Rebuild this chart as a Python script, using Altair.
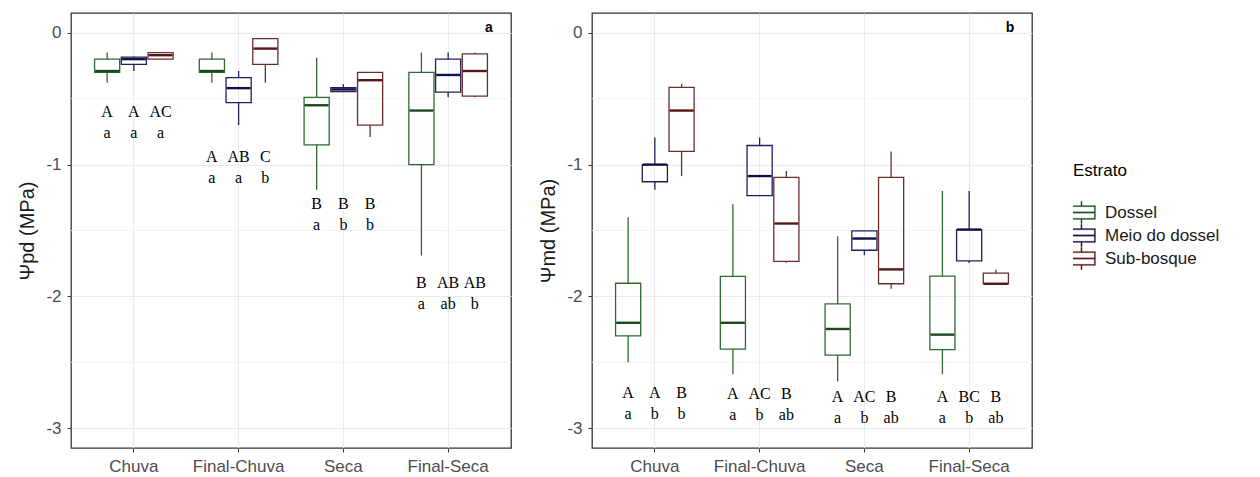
import altair as alt
import pandas as pd

cats = ["Chuva", "Final-Chuva", "Seca", "Final-Seca"]
strata = ["Dossel", "Meio do dossel", "Sub-bosque"]

# Panel a: Psi pd (MPa) box statistics (category-major, stratum-minor)
pd_min = [-0.38, -0.29, -0.20, -0.38, -0.70, -0.38, -1.19, -0.45, -0.79, -1.69, -0.49, -0.49]
pd_q1 = [-0.30, -0.24, -0.20, -0.30, -0.53, -0.24, -0.85, -0.447, -0.70, -1.00, -0.45, -0.48]
pd_med = [-0.29, -0.20, -0.17, -0.29, -0.42, -0.12, -0.55, -0.43, -0.36, -0.59, -0.32, -0.29]
pd_q3 = [-0.20, -0.185, -0.15, -0.20, -0.34, -0.045, -0.49, -0.417, -0.30, -0.30, -0.20, -0.16]
pd_max = [-0.15, -0.18, -0.145, -0.15, -0.29, -0.045, -0.19, -0.39, -0.30, -0.15, -0.15, -0.15]
pd_upper = ["A", "A", "AC", "A", "AB", "C", "B", "B", "B", "B", "AB", "AB"]
pd_lower = ["a", "a", "a", "a", "a", "b", "a", "b", "b", "a", "ab", "b"]
pd_label_y = [-0.60, -0.945, -1.30, -1.90]

# Panel b: Psi md (MPa)
md_min = [-2.50, -1.19, -1.087, -2.59, -1.236, -1.744, -2.645, -1.688, -1.942, -2.59, -1.746, -1.904]
md_q1 = [-2.30, -1.13, -0.90, -2.40, -1.236, -1.734, -2.445, -1.65, -1.904, -2.404, -1.731, -1.904]
md_med = [-2.20, -1.00, -0.59, -2.20, -1.087, -1.447, -2.247, -1.561, -1.795, -2.29, -1.493, -1.904]
md_q3 = [-1.90, -1.00, -0.414, -1.848, -0.855, -1.097, -2.056, -1.503, -1.097, -1.846, -1.493, -1.823]
md_max = [-1.40, -0.795, -0.388, -1.30, -0.795, -1.049, -1.544, -1.503, -0.90, -1.20, -1.20, -1.797]
md_upper = ["A", "A", "B", "A", "AC", "B", "A", "AC", "B", "A", "BC", "B"]
md_lower = ["a", "b", "b", "a", "b", "ab", "a", "b", "ab", "a", "b", "ab"]
md_label_y = [-2.73, -2.74, -2.76, -2.76]

y_ticks = [0, -1, -2, -3]
y_minor = [-0.5, -1.5, -2.5]

stroke_colors = ["#2E6930", "#1F1F5C", "#6B2C2C"]
median_colors = ["#1C4A1E", "#10104A", "#5A1616"]


def make_df(mn, q1, med, q3, mx, up, lo, ly):
    rows = []
    i = 0
    for ci, c in enumerate(cats):
        for s in strata:
            rows.append(dict(cat=c, estrato=s, estrato_med=s, lo=mn[i], q1=q1[i],
                             med=med[i], q3=q3[i], hi=mx[i], up=up[i], low=lo[i], ly=ly[ci]))
            i += 1
    return pd.DataFrame(rows)


W, H = 440, 435
ydom = [-3.15, 0.15]

# boxplot key drawn as thin filled frame (hole inside), median bar and whiskers
legend_path = ("M-1.87,-0.93H1.87V0.93H-1.87Z "
               "M-1.70,-0.76V0.76H1.70V-0.76Z "
               "M-1.70,-0.085H1.70V0.085H-1.70Z "
               "M-0.085,-0.93V-1.5H0.085V-0.93Z "
               "M-0.085,0.93V1.5H0.085V0.93Z")


def panel(df, ytitle, tag):
    x = alt.X("cat:N", sort=cats,
              scale=alt.Scale(paddingInner=0.25, paddingOuter=0.225),
              axis=alt.Axis(title=None, labelFont="Liberation Sans", labelFontSize=17,
                            labelColor="#4D4D4D", tickColor="#333333", tickSize=4,
                            labelPadding=6, domain=False, grid=True, gridColor="#EBEBEB",
                            gridWidth=1.1, bandPosition=0.5, labelAngle=0))
    xo = alt.XOffset("estrato:N", sort=strata, scale=alt.Scale(domain=strata, paddingInner=0.06))
    yscale = alt.Scale(domain=ydom, nice=False, zero=False)
    yaxis = alt.Axis(title=ytitle, values=y_ticks, labelExpr="'' + datum.value",
                     labelFont="Liberation Sans", labelFontSize=17, labelColor="#4D4D4D",
                     titleFont="Liberation Sans", titleFontSize=20, titleFontWeight="normal",
                     titleColor="#1A1A1A", titlePadding=8,
                     tickColor="#333333", tickSize=4, labelPadding=6, domain=False,
                     grid=True, gridColor="#EBEBEB", gridWidth=1.1)
    color = alt.Color("estrato:N", scale=alt.Scale(domain=strata, range=stroke_colors),
                      legend=alt.Legend(title="Estrato", orient="none", legendX=1002, legendY=150,
                                        symbolType=legend_path, symbolSize=225,
                                        symbolStrokeWidth=0.2, symbolOpacity=1,
                                        clipHeight=23,
                                        titleFont="Liberation Sans", titleFontSize=17,
                                        titleFontWeight="normal", titleColor="#000000",
                                        titlePadding=21,
                                        labelFont="Liberation Sans", labelFontSize=17,
                                        labelColor="#1A1A1A", labelOffset=15, rowPadding=0))

    minor = alt.Chart(pd.DataFrame({"v": y_minor})).mark_rule(
        color="#F2F2F2", strokeWidth=0.8).encode(
        y=alt.Y("v:Q", scale=yscale, axis=yaxis))

    base = alt.Chart(df)
    whisk_lo = base.mark_rule(strokeWidth=1.3).encode(
        x=x, xOffset=xo, y=alt.Y("lo:Q", scale=yscale, axis=yaxis), y2="q1:Q", color=color)
    whisk_hi = base.mark_rule(strokeWidth=1.3).encode(
        x=x, xOffset=xo, y=alt.Y("q3:Q", scale=yscale, axis=yaxis), y2="hi:Q", color=color)
    box = base.mark_bar(filled=False, strokeWidth=1.3).encode(
        x=x, xOffset=xo, y=alt.Y("q1:Q", scale=yscale, axis=yaxis), y2="q3:Q", color=color)
    med = base.mark_tick(thickness=2.4, size=24, opacity=1).encode(
        x=x, xOffset=xo, y=alt.Y("med:Q", scale=yscale, axis=yaxis),
        fill=alt.Fill("estrato_med:N", scale=alt.Scale(domain=strata, range=median_colors),
                      legend=None))
    up = base.mark_text(font="Liberation Serif", fontSize=16, baseline="middle",
                        color="#000000").encode(
        x=x, xOffset=xo, y=alt.Y("ly:Q", scale=yscale, axis=yaxis), text="up:N")
    low = base.mark_text(font="Liberation Serif", fontSize=16, baseline="middle", dy=21,
                         color="#000000").encode(
        x=x, xOffset=xo, y=alt.Y("ly:Q", scale=yscale, axis=yaxis), text="low:N")
    tagt = alt.Chart(pd.DataFrame({"t": [tag]})).mark_text(
        font="Liberation Sans", fontSize=14, fontWeight="bold", color="#000000").encode(
        x=alt.value(W - 22), y=alt.value(15), text="t:N")

    return alt.layer(minor, whisk_lo, whisk_hi, box, med, up, low, tagt).properties(width=W, height=H)


dfa = make_df(pd_min, pd_q1, pd_med, pd_q3, pd_max, pd_upper, pd_lower, pd_label_y)
dfb = make_df(md_min, md_q1, md_med, md_q3, md_max, md_upper, md_lower, md_label_y)

pa = panel(dfa, "Ψpd (MPa)", "a")
pb = panel(dfb, "Ψmd (MPa)", "b")

chart = alt.hconcat(pa, pb, spacing=25).resolve_scale(
    color="shared", fill="shared"
).properties(
    padding={"left": 17, "top": 12, "right": 5, "bottom": 0},
    background="white",
).configure_view(
    stroke="#333333", strokeWidth=1.3
).configure_legend(
    symbolBaseFillColor="white"
)

chart.save("out.html", embed_options={"renderer": "svg", "actions": False})
